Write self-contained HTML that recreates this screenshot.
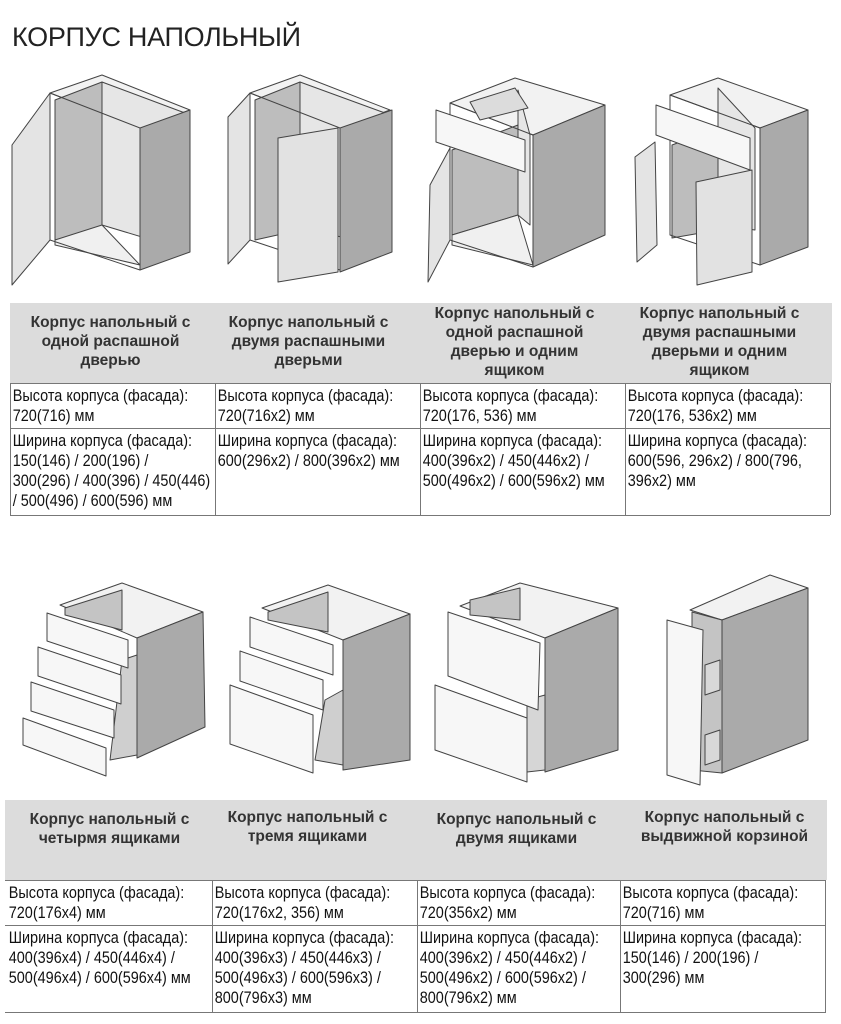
<!DOCTYPE html>
<html><head><meta charset="utf-8"><style>
body{margin:0;width:841px;height:1024px;background:#fff;position:relative;overflow:hidden;font-family:"Liberation Sans",sans-serif;color:#111}
.title{position:absolute;left:12px;top:20px;font-family:"Liberation Sans",sans-serif;font-size:27px;letter-spacing:-0.3px;color:#222;line-height:34px}
.hdr{position:absolute;background:#dcdcdc;height:80px}
.h{position:absolute;font-family:"Liberation Sans",sans-serif;font-weight:bold;font-size:15.5px;line-height:19px;text-align:center;color:#333;width:205px;letter-spacing:0px}
.c{position:absolute;font-size:16.5px;line-height:20px;color:#111;padding-left:2px;white-space:nowrap;transform:scaleX(0.875);transform-origin:0 0}
.ln{position:absolute;background:#777}
svg{position:absolute;left:0;top:0}
</style></head><body>
<div class="title">КОРПУС НАПОЛЬНЫЙ</div>

<svg width="841" height="1024" viewBox="0 0 841 1024" stroke="#444" stroke-width="1" stroke-linejoin="round">
<!-- Cab1 -->
<polygon points="50,93 102,75 190,110 140,128" fill="#f2f2f2"/>
<polygon points="55,100 102,82 102,230 55,240" fill="#bdbdbd"/>
<polygon points="102,82 185,113 185,250 102,225" fill="#e6e6e6"/>
<polygon points="55,240 102,225 140,265 55,245" fill="#f0f0f0"/>
<polygon points="50,93 140,128 140,270 50,240" fill="none"/>
<polygon points="140,128 190,110 190,252 140,270" fill="#aaaaaa"/>
<polygon points="50,93 12,145 12,285 50,240" fill="#e4e4e4"/>
<!-- Cab2 -->
<polygon points="250,93 300,75 390,110 340,128" fill="#f2f2f2"/>
<polygon points="255,100 300,82 300,230 255,240" fill="#bdbdbd"/>
<polygon points="300,82 385,113 385,250 300,225" fill="#e6e6e6"/>
<polygon points="250,93 340,128 340,270 250,240" fill="none"/>
<polygon points="340,128 392,110 392,252 340,272" fill="#aaaaaa"/>
<polygon points="250,93 228,117 228,264 250,240" fill="#e4e4e4"/>
<polygon points="278,138 338,128 338,272 278,282" fill="#e2e2e2"/>
<!-- Cab3 -->
<polygon points="450,103 515,78 605,105 533,135" fill="#f2f2f2"/>
<polygon points="452,150 518,125 518,215 452,235" fill="#bdbdbd"/>
<polygon points="518,90 530,135 530,225 518,215" fill="#e6e6e6"/>
<polygon points="452,235 518,215 533,265 452,245" fill="#f0f0f0"/>
<polygon points="450,103 533,135 533,267 450,240" fill="none"/>
<polygon points="533,135 605,105 605,235 533,267" fill="#aaaaaa"/>
<polygon points="470,102 515,88 528,108 480,120" fill="#dcdcdc"/>
<polygon points="436,110 525,140 525,172 436,142" fill="#f7f7f7"/>
<polygon points="450,148 430,185 428,282 450,240" fill="#e4e4e4"/>
<!-- Cab4 -->
<polygon points="670,95 718,78 808,110 760,128" fill="#f2f2f2"/>
<polygon points="672,145 718,128 718,230 672,238" fill="#bdbdbd"/>
<polygon points="718,88 755,128 755,230 718,225" fill="#e6e6e6"/>
<polygon points="670,95 760,128 760,265 670,235" fill="none"/>
<polygon points="760,128 808,110 808,247 760,265" fill="#aaaaaa"/>
<polygon points="656,105 750,138 750,170 656,135" fill="#f7f7f7"/>
<polygon points="655,142 635,157 637,262 657,245" fill="#e4e4e4"/>
<polygon points="696,182 752,170 752,272 697,285" fill="#e2e2e2"/>

<!-- Cab5 -->
<polygon points="60,605 122,583 203,612 137,638" fill="#f2f2f2"/>
<polygon points="65,608 122,590 122,630 65,615" fill="#c4c4c4"/>
<polygon points="137,638 203,612 205,727 137,758" fill="#aaaaaa"/>
<polygon points="122,660 137,655 137,755 110,760" fill="#cfcfcf"/>
<polygon points="47,613 128,640 128,668 47,641" fill="#f7f7f7"/>
<polygon points="38,647 121,675 121,704 38,676" fill="#f7f7f7"/>
<polygon points="31,682 114,710 114,738 31,711" fill="#f7f7f7"/>
<polygon points="23,718 106,748 106,776 23,745" fill="#f7f7f7"/>
<!-- Cab6 -->
<polygon points="262,608 328,585 410,614 343,640" fill="#f2f2f2"/>
<polygon points="268,612 328,592 328,632 268,620" fill="#c4c4c4"/>
<polygon points="343,640 410,614 410,760 343,770" fill="#aaaaaa"/>
<polygon points="325,700 343,690 343,765 315,760" fill="#cfcfcf"/>
<polygon points="250,617 333,645 333,675 250,647" fill="#f7f7f7"/>
<polygon points="240,651 323,680 323,710 240,681" fill="#f7f7f7"/>
<polygon points="230,685 313,715 313,773 230,744" fill="#f7f7f7"/>
<!-- Cab7 -->
<polygon points="460,606 520,583 618,608 545,638" fill="#f2f2f2"/>
<polygon points="470,600 520,588 520,620 470,615" fill="#c4c4c4"/>
<polygon points="545,638 618,608 618,750 545,772" fill="#aaaaaa"/>
<polygon points="527,700 545,695 545,770 527,772" fill="#d6d6d6"/>
<polygon points="448,612 540,643 538,710 448,676" fill="#f7f7f7"/>
<polygon points="435,685 527,718 527,782 435,750" fill="#f7f7f7"/>
<!-- Cab8 -->
<polygon points="690,610 770,575 808,588 722,620" fill="#f2f2f2"/>
<polygon points="692,612 722,620 722,773 692,770" fill="#c4c4c4"/>
<polygon points="722,620 808,588 808,740 722,773" fill="#aaaaaa"/>
<polygon points="705,665 720,660 720,690 705,695" fill="#d8d8d8"/>
<polygon points="705,735 720,730 720,760 705,765" fill="#d8d8d8"/>
<polygon points="667,620 703,630 700,785 667,775" fill="#f7f7f7"/>
</svg>

<!-- Table 1 -->
<div class="hdr" style="left:10px;top:303px;width:822px"></div>
<div class="h" style="left:8px;top:313px">Корпус напольный с<br>одной распашной<br>дверью</div>
<div class="h" style="left:206px;top:313px">Корпус напольный с<br>двумя распашными<br>дверьми</div>
<div class="h" style="left:412px;top:304px">Корпус напольный с<br>одной распашной<br>дверью и одним<br>ящиком</div>
<div class="h" style="left:617px;top:304px">Корпус напольный с<br>двумя распашными<br>дверьми и одним<br>ящиком</div>
<div class="ln" style="left:10px;top:383px;width:820px;height:1px"></div>
<div class="ln" style="left:10px;top:428px;width:820px;height:1px"></div>
<div class="ln" style="left:10px;top:515px;width:820px;height:1px"></div>
<div class="ln" style="left:10px;top:383px;width:1px;height:132px"></div>
<div class="ln" style="left:215px;top:383px;width:1px;height:132px"></div>
<div class="ln" style="left:420px;top:383px;width:1px;height:132px"></div>
<div class="ln" style="left:625px;top:383px;width:1px;height:132px"></div>
<div class="ln" style="left:830px;top:383px;width:1px;height:132px"></div>
<div class="c" style="left:11px;top:386px">Высота корпуса (фасада):<br>720(716) мм</div>
<div class="c" style="left:216px;top:386px">Высота корпуса (фасада):<br>720(716x2) мм</div>
<div class="c" style="left:421px;top:386px">Высота корпуса (фасада):<br>720(176, 536) мм</div>
<div class="c" style="left:626px;top:386px">Высота корпуса (фасада):<br>720(176, 536x2) мм</div>
<div class="c" style="left:11px;top:431px">Ширина корпуса (фасада):<br>150(146) / 200(196) /<br>300(296) / 400(396) / 450(446)<br>/ 500(496) / 600(596) мм</div>
<div class="c" style="left:216px;top:431px">Ширина корпуса (фасада):<br>600(296x2) / 800(396x2) мм</div>
<div class="c" style="left:421px;top:431px">Ширина корпуса (фасада):<br>400(396x2) / 450(446x2) /<br>500(496x2) / 600(596x2) мм</div>
<div class="c" style="left:626px;top:431px">Ширина корпуса (фасада):<br>600(596, 296x2) / 800(796,<br>396x2) мм</div>

<!-- Table 2 -->
<div class="hdr" style="left:5px;top:800px;width:822px"></div>
<div class="h" style="left:7px;top:810px">Корпус напольный с<br>четырмя ящиками</div>
<div class="h" style="left:205px;top:808px">Корпус напольный с<br>тремя ящиками</div>
<div class="h" style="left:414px;top:810px">Корпус напольный с<br>двумя ящиками</div>
<div class="h" style="left:622px;top:808px">Корпус напольный с<br>выдвижной корзиной</div>
<div class="ln" style="left:5px;top:880px;width:821px;height:1px"></div>
<div class="ln" style="left:5px;top:925px;width:821px;height:1px"></div>
<div class="ln" style="left:5px;top:1012px;width:821px;height:1px"></div>
<div class="ln" style="left:212px;top:880px;width:1px;height:132px"></div>
<div class="ln" style="left:417px;top:880px;width:1px;height:132px"></div>
<div class="ln" style="left:620px;top:880px;width:1px;height:132px"></div>
<div class="ln" style="left:825px;top:880px;width:1px;height:132px"></div>
<div class="c" style="left:7px;top:883px">Высота корпуса (фасада):<br>720(176x4) мм</div>
<div class="c" style="left:213px;top:883px">Высота корпуса (фасада):<br>720(176x2, 356) мм</div>
<div class="c" style="left:418px;top:883px">Высота корпуса (фасада):<br>720(356x2) мм</div>
<div class="c" style="left:621px;top:883px">Высота корпуса (фасада):<br>720(716) мм</div>
<div class="c" style="left:7px;top:928px">Ширина корпуса (фасада):<br>400(396x4) / 450(446x4) /<br>500(496x4) / 600(596x4) мм</div>
<div class="c" style="left:213px;top:928px">Ширина корпуса (фасада):<br>400(396x3) / 450(446x3) /<br>500(496x3) / 600(596x3) /<br>800(796x3) мм</div>
<div class="c" style="left:418px;top:928px">Ширина корпуса (фасада):<br>400(396x2) / 450(446x2) /<br>500(496x2) / 600(596x2) /<br>800(796x2) мм</div>
<div class="c" style="left:621px;top:928px">Ширина корпуса (фасада):<br>150(146) / 200(196) /<br>300(296) мм</div>
</body></html>
